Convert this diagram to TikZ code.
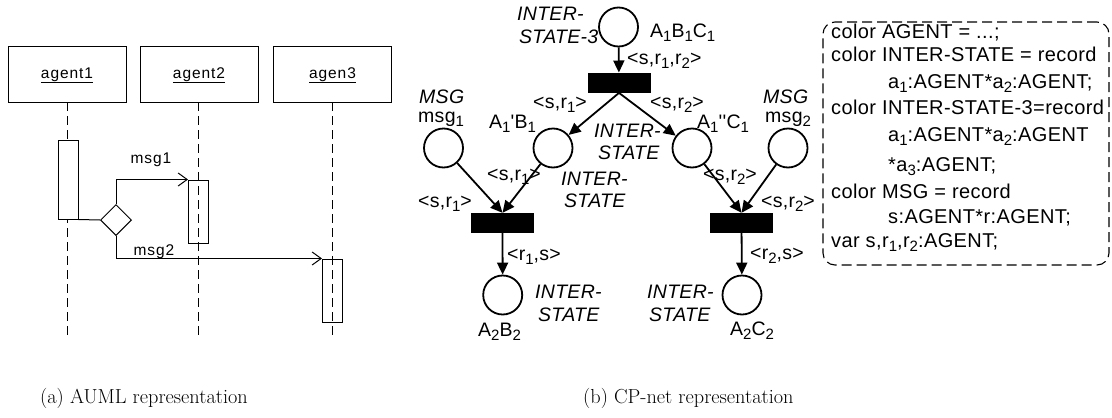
\documentclass[tikz,border=0pt]{standalone}
\usepackage{fontspec}
\usetikzlibrary{arrows.meta,shapes.geometric}
\newfontfamily\netff[LetterSpace=1.5]{Liberation Sans}
\newfontfamily\declff[LetterSpace=2]{Liberation Sans}
\newfontfamily\seqff[LetterSpace=6]{Liberation Sans}
\newcommand\netfont{\netff\fontsize{19.5}{23}\selectfont}
\newcommand\declfont{\declff\fontsize{20}{23}\selectfont}
\newcommand\seqfont{\seqff\fontsize{15.5}{18}\selectfont}
\newcommand\sbs[1]{\raisebox{-4.8pt}{\fontsize{15}{15}\selectfont #1}}
\tikzset{
  x=1pt, y=-1pt,
  seqline/.style={line width=1pt},
  lifeline/.style={line width=1pt, dash pattern=on 9pt off 5pt},
  headbox/.style={draw, line width=1pt, minimum width=118pt, minimum height=56pt, inner sep=0},
  actbox/.style={draw, line width=1pt, minimum width=20pt, inner sep=0},
  choice/.style={diamond, draw, line width=1pt, fill=white, minimum width=31pt, minimum height=31pt, inner sep=0, aspect=1},
  msgarrow/.style={line width=1pt, -{Straight Barb[length=9pt,width=13pt]}},
  seqtxt/.style={inner sep=0, font=\seqfont},
  place/.style={circle, draw, line width=1.8pt, minimum size=39pt, inner sep=0},
  trans/.style={rectangle, fill=black, minimum width=63pt, minimum height=20pt, inner sep=0},
  arc/.style={line width=1.8pt, -{Triangle[length=12pt,width=11pt]}},
  txt/.style={inner sep=0, font=\netfont, anchor=base west},
  itxt/.style={txt, font=\netfont\itshape},
  decltxt/.style={inner sep=0, font=\declfont, anchor=base west},
  declbox/.style={draw, line width=1.1pt, dash pattern=on 10pt off 5pt, rounded corners=12pt, minimum width=286pt, minimum height=243pt, inner sep=0},
  captxt/.style={inner sep=0, anchor=base west, font=\fontsize{20.3}{24}\selectfont}
}
\begin{document}
\begin{tikzpicture}
\useasboundingbox (0,0) rectangle (1112,418);

% ---------- sequence diagram ----------
\node[headbox] (h1) at (67,74) {};
\node[headbox] (h2) at (199,74) {};
\node[headbox] (h3) at (332.5,74) {};
\node[seqtxt, anchor=base] (n1) at (67,78) {\underline{agent1}};
\node[seqtxt, anchor=base] (n2) at (199,78) {\underline{agent2}};
\node[seqtxt, anchor=base] (n3) at (332.5,78) {\underline{agen3}};

\coordinate (e1) at (67,337);
\coordinate (e2) at (198,337);
\coordinate (e3) at (332,337);
\draw[lifeline] (67,102) -- (e1);
\draw[lifeline] (198,102) -- (e2);
\draw[lifeline] (332,102) -- (e3);

\node[actbox, fill=white, minimum height=79pt] (a1) at (68,179.5) {};
\node[actbox, minimum height=63pt] (a2) at (198.5,211.5) {};
\node[actbox, minimum height=63pt] (a3) at (332.5,290.5) {};

\node[choice] (ch) at (116,220) {};
\draw[seqline] (a1.south east) -- (ch.west);
\draw[msgarrow] (ch.north) |- (a2.north west);
\draw[msgarrow] (ch.south) |- (a3.north west);
\node[seqtxt, anchor=base] (m1) at (151,163) {msg1};
\node[seqtxt, anchor=base] (m2) at (154,255) {msg2};

% ---------- CP-net ----------
\node[place] (p0) at (618.5,27) {};
\node[trans] (t0) at (619,82.7) {};
\node[place] (pab) at (553,148) {};
\node[place] (pac) at (692,148) {};
\node[place] (pm1) at (443.5,148) {};
\node[place] (pm2) at (788,148) {};
\node[trans] (t1) at (502.5,223) {};
\node[trans] (t2) at (741.5,223) {};
\node[place] (pb2) at (502.7,295) {};
\node[place] (pc2) at (742,295) {};

\draw[arc] (p0) -- (t0);
\draw[arc] (t0.south) -- (pab);
\draw[arc] (t0.south) -- (pac);
\draw[arc] (pm1) -- (t1.north);
\draw[arc] (pab) -- (t1.north);
\draw[arc] (pac) -- (t2.north);
\draw[arc] (pm2) -- (t2.north);
\draw[arc] (t1) -- (pb2);
\draw[arc] (t2) -- (pc2);

\node[itxt] (l1) at (517,20) {INTER-};
\node[itxt] (l2) at (519,43) {STATE-3};
\node[txt] (l3) at (650,37) {A\sbs{1}B\sbs{1}C\sbs{1}};
\node[txt] (l4) at (627,64) {<s,r\sbs{1},r\sbs{2}>};
\node[txt] (l5) at (533,108) {<s,r\sbs{1}>};
\node[txt] (l6) at (650,108) {<s,r\sbs{2}>};
\node[itxt] (l7) at (419,103) {MSG};
\node[txt] (l8) at (418,122) {msg\sbs{1}};
\node[itxt] (l9) at (763,103) {MSG};
\node[txt] (l10) at (765,122) {msg\sbs{2}};
\node[txt] (l11) at (489,128) {A\sbs{1}'B\sbs{1}};
\node[txt] (l12) at (697,128) {A\sbs{1}''C\sbs{1}};
\node[itxt] (l13) at (594,137) {INTER-};
\node[itxt] (l14) at (598,159) {STATE};
\node[txt] (l15) at (487,180) {<s,r\sbs{1}>};
\node[txt] (l16) at (703,180) {<s,r\sbs{2}>};
\node[itxt] (l17) at (561,185) {INTER-};
\node[itxt] (l18) at (564,207) {STATE};
\node[txt] (l19) at (418,207) {<s,r\sbs{1}>};
\node[txt] (l20) at (761,207) {<s,r\sbs{2}>};
\node[txt] (l21) at (507,260) {<r\sbs{1},s>};
\node[txt] (l22) at (750,259) {<r\sbs{2},s>};
\node[itxt] (l23) at (535,298) {INTER-};
\node[itxt] (l24) at (538,321) {STATE};
\node[itxt] (l25) at (647,298) {INTER-};
\node[itxt] (l26) at (649,321) {STATE};
\node[txt] (l27) at (478,336) {A\sbs{2}B\sbs{2}};
\node[txt] (l28) at (730,335) {A\sbs{2}C\sbs{2}};

% ---------- colour declarations ----------
\node[declbox] (decl) at (966,143.5) {};
\node[decltxt] (d1) at (831,38) {color AGENT = ...;};
\node[decltxt] (d2) at (831,61) {color INTER-STATE = record};
\node[decltxt] (d3) at (888,88) {a\sbs{1}:AGENT*a\sbs{2}:AGENT;};
\node[decltxt] (d4) at (831,114.5) {color INTER-STATE-3=record};
\node[decltxt] (d5) at (888,141) {a\sbs{1}:AGENT*a\sbs{2}:AGENT};
\node[decltxt] (d6) at (888,171) {*a\sbs{3}:AGENT;};
\node[decltxt] (d7) at (831,198) {color MSG = record};
\node[decltxt] (d8) at (888,223) {s:AGENT*r:AGENT;};
\node[decltxt] (d9) at (831,247) {var s,r\sbs{1},r\sbs{2}:AGENT;};

% ---------- captions ----------
\node[captxt] (ca) at (40,403) {(a) AUML representation};
\node[captxt] (cb) at (583,403) {(b) CP-net representation};
\end{tikzpicture}
\end{document}
